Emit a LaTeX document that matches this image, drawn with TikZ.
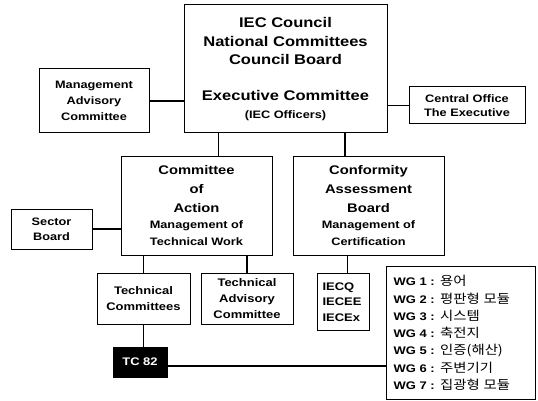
\documentclass[tikz,border=0pt]{standalone}
\usepackage{fontspec}
\setmainfont{Liberation Sans}[FakeStretch=1.18]
\newfontfamily\krfont{Noto Sans CJK KR}[FakeStretch=1.15]
\newcommand{\kr}[1]{{\krfont\mdseries\fontsize{12.5}{17.3}\selectfont #1}}

\begin{document}
\begin{tikzpicture}[x=1pt,y=-1pt,
  box/.style={draw,line width=1pt,inner sep=0pt,align=center,
    font=\bfseries\fontsize{10.8}{16}\selectfont},
  link/.style={line width=1.2pt}]

\useasboundingbox (0,0) rectangle (538,401);

% council and the boxes beside it
\node[box,minimum width=203pt,minimum height=128pt,
  font=\bfseries\fontsize{14}{18.5}\selectfont] (iec) at (285.5,69)
  {IEC Council\\National Committees\\Council Board\\[17.5pt]Executive Committee\\[-1pt]{\fontsize{10.8}{13}\selectfont (IEC Officers)}};
\node[box,minimum width=110pt,minimum height=64pt] (mac) at (94,101)
  {Management\\Advisory\\Committee};
\node[box,minimum width=116pt,minimum height=37pt,
  font=\bfseries\fontsize{10.8}{14.5}\selectfont] (cen) at (467,105.5)
  {Central Office\\The Executive};

% second level
\node[box,minimum width=151pt,minimum height=99pt,
  font=\bfseries\fontsize{12.5}{19}\selectfont] (coa) at (196.5,205.5)
  {Committee\\of\\Action\\[-3pt]{\fontsize{10.8}{13}\selectfont Management of}\\[-2pt]{\fontsize{10.8}{13}\selectfont Technical Work}};
\node[box,minimum width=151pt,minimum height=99pt,
  font=\bfseries\fontsize{12.5}{19}\selectfont] (cab) at (368.5,205.5)
  {Conformity\\Assessment\\Board\\[-3pt]{\fontsize{10.8}{13}\selectfont Management of}\\[-2pt]{\fontsize{10.8}{13}\selectfont Certification}};
\node[box,minimum width=81pt,minimum height=40pt,
  font=\bfseries\fontsize{10.8}{15}\selectfont] (sec) at (51.5,229)
  {Sector\\Board};

% third level
\node[box,minimum width=93pt,minimum height=51pt,
  font=\bfseries\fontsize{11}{15.5}\selectfont] (tc) at (143.5,298.5)
  {Technical\\Committees};
\node[box,minimum width=92pt,minimum height=51pt,
  font=\bfseries\fontsize{11}{16}\selectfont] (tac) at (247,298.5)
  {Technical\\Advisory\\Committee};
\node[box,anchor=north west,inner xsep=5pt,text width=42pt,minimum height=57pt,
  align=left,font=\bfseries\fontsize{11}{15.5}\selectfont] (sys) at (317,273)
  {IECQ\\IECEE\\IECEx};

% TC 82 and its working groups
\node[box,fill=black,text=white,minimum width=54pt,minimum height=30pt,
  font=\bfseries\fontsize{11}{13}\selectfont] (tcb) at (140,362) {TC 82};
\node[box,anchor=north west,inner xsep=7pt,text width=135pt,minimum height=133pt,
  align=left,font=\bfseries\fontsize{11}{17.3}\selectfont] (wg) at (386,266)
  {WG 1 : \kr{용어}\\
   WG 2 : \kr{평판형 모듈}\\
   WG 3 : \kr{시스템}\\
   WG 4 : \kr{축전지}\\
   WG 5 : \kr{인증(해산)}\\
   WG 6 : \kr{주변기기}\\
   WG 7 : \kr{집광형 모듈}};

% connectors
\draw[link] (mac.east) -- (mac.east -| iec.west);
\draw[link] (cen.west) -- (cen.west -| iec.east);
\draw[link] ([xshift=22pt]coa.north) -- ([xshift=22pt]coa.north |- iec.south);
\draw[link] ([xshift=-23.5pt]cab.north) -- ([xshift=-23.5pt]cab.north |- iec.south);
\draw[link] (sec.east) -- (sec.east -| coa.west);
\draw[link] (tc.north) -- (tc.north |- coa.south);
\draw[link] (tac.north) -- (tac.north |- coa.south);
\draw[link] ([xshift=4pt]sys.north) -- ([xshift=4pt]sys.north |- cab.south);
\draw[link] (tc.south) -- (tc.south |- tcb.north);
\draw[link] ([yshift=-4pt]tcb.east) -- ([yshift=-4pt]tcb.east -| wg.west);

\end{tikzpicture}
\end{document}
